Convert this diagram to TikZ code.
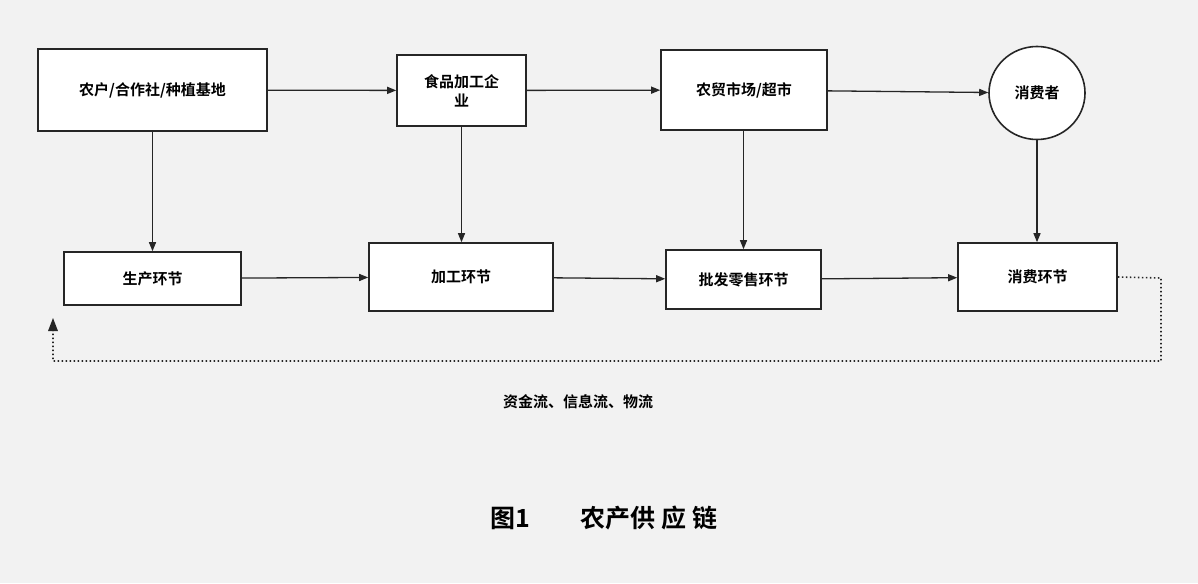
\documentclass[tikz,border=0pt]{standalone}
\usepackage{fontspec}
\newfontfamily\cjk{Noto Sans CJK SC}[BoldFont={Noto Sans CJK SC Bold}]
\usetikzlibrary{shapes.geometric,arrows.meta}
\definecolor{bg}{HTML}{F2F2F2}
\definecolor{ln}{HTML}{262626}
\begin{document}
\begin{tikzpicture}[x=1pt,y=-1pt,
  box/.style={draw=ln,line width=1.6pt,fill=white,inner sep=0pt,font=\cjk\bfseries\fontsize{15}{19}\selectfont,align=center},
  arr/.style={draw=ln,line width=1.3pt,-{Triangle[length=9pt,width=7pt]}},
  dots/.style={draw=ln,line width=1.6pt,dash pattern=on 1.6pt off 2.4pt}]
\fill[bg] (0,0) rectangle (1198,583);
\useasboundingbox (0,0) rectangle (1198,583);
\node[box,minimum width=229pt,minimum height=82pt] (A) at (152.5,90) {农户/合作社/种植基地};
\node[box,minimum width=129pt,minimum height=71pt] (B) at (461.5,90.5) {食品加工企\\业};
\node[box,minimum width=166pt,minimum height=80pt] (C) at (744,90) {农贸市场/超市};
\node[box,ellipse,minimum width=96pt,minimum height=93pt] (D) at (1037,93) {消费者};
\node[box,minimum width=177pt,minimum height=53pt] (E) at (152.5,278.5) {生产环节};
\node[box,minimum width=184pt,minimum height=68pt] (F) at (461,277) {加工环节};
\node[box,minimum width=155pt,minimum height=59pt] (G) at (743.5,279.5) {批发零售环节};
\node[box,minimum width=159pt,minimum height=68pt] (H) at (1037.5,277) {消费环节};
\draw[arr] (A) -- (B);
\draw[arr] (B) -- (C);
\draw[arr] (C) -- (D);
\draw[arr] (E) -- (F);
\draw[arr] (F) -- (G);
\draw[arr] (G) -- (H);
\draw[arr] (A.south) -- (A.south|-E.north);
\draw[arr] (B.south) -- (B.south|-F.north);
\draw[arr] (C.south-|G.north) -- (G.north);
\draw[arr] (D.south) -- (D.south|-H.north);
\coordinate (p1) at (1161,278);
\coordinate (p2) at (1161,361);
\coordinate (p3) at (53,361);
\coordinate (p4) at (53,318);
\draw[dots] (H.east) -- (p1) -- (p2) -- (p3) -- (53,330);
\fill[ln] (p4) -- (48,331) -- (58,331) -- cycle;
\node[font=\cjk\bfseries\fontsize{15}{19}\selectfont] (T1) at (578,402) {资金流、信息流、物流};
\node[font=\cjk\bfseries\fontsize{25}{30}\selectfont] (T2) at (604,518) {图1\hspace{2em}农产供 应 链};
\end{tikzpicture}
\end{document}
